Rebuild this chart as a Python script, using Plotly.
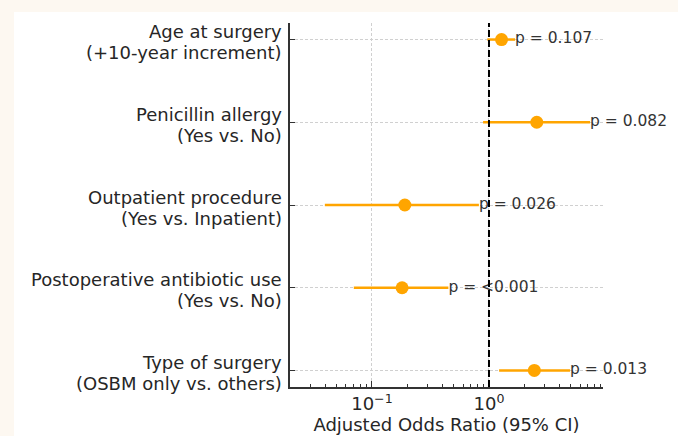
import plotly.graph_objects as go

labels = [
    "Age at surgery<br>(+10-year increment)",
    "Penicillin allergy<br>(Yes vs. No)",
    "Outpatient procedure<br>(Yes vs. Inpatient)",
    "Postoperative antibiotic use<br>(Yes vs. No)",
    "Type of surgery<br>(OSBM only vs. others)",
]
odds_ratio = [1.28, 2.56, 0.191, 0.181, 2.44]
ci_low = [0.967, 0.89, 0.0396, 0.070, 1.22]
ci_high = [1.67, 7.3, 0.82, 0.45, 4.92]
p_text = ["p = 0.107", "p = 0.082", "p = 0.026", "p = <0.001", "p = 0.013"]
x_ticks = [0.1, 1]
x_tick_text = ["10<sup>−1</sup>", "10<sup>0</sup>"]

ypos = list(range(len(labels)))
W, H = 678, 436
L, R, T, B = 290, 75, 23, 49
pw, ph = W - L - R, H - T - B

orange = "#FFA500"
font = "DejaVu Sans, Verdana, sans-serif"
txt = "#262626"

fig = go.Figure()

lx, ly = [], []
for i in ypos:
    lx += [ci_low[i], ci_high[i], None]
    ly += [i, i, None]
fig.add_trace(go.Scatter(x=lx, y=ly, mode="lines",
                         line=dict(color=orange, width=2.5),
                         hoverinfo="skip", showlegend=False, cliponaxis=False))
fig.add_trace(go.Scatter(x=odds_ratio, y=ypos, mode="markers",
                         marker=dict(color=orange, size=13),
                         showlegend=False, cliponaxis=False))
fig.add_trace(go.Scatter(x=ci_high, y=ypos, mode="text", text=p_text,
                         textposition="middle right",
                         textfont=dict(family=font, size=15.5, color="#333333"),
                         showlegend=False, cliponaxis=False))

minor_vals = [m * 10 ** e for e in (-2, -1, 0) for m in range(2, 10)]

# category labels, right-aligned against the left spine (two lines each)
annotations = []
for i, lab in zip(ypos, labels):
    for k, line in enumerate(lab.split("<br>")):
        annotations.append(dict(
            text=line, xref="paper", x=0, xanchor="right", xshift=-6,
            yref="y", y=i, yanchor="middle", yshift=(8 if k == 0 else -13),
            showarrow=False, font=dict(family=font, size=18, color=txt)))

fig.update_layout(
    width=W, height=H,
    margin=dict(l=L, r=R, t=T, b=B, autoexpand=False),
    paper_bgcolor="#FDF8F1",
    plot_bgcolor="white",
    font=dict(family=font, color=txt),
    annotations=annotations,
    shapes=[
        dict(type="rect", xref="paper", yref="paper",
             x0=(14 - L) / pw, x1=(W - L) / pw,
             y0=(T + ph - H) / ph, y1=(T + ph - 12) / ph,
             fillcolor="white", line=dict(width=0), layer="below"),
        dict(type="line", xref="x", yref="paper", x0=1, x1=1, y0=0, y1=1,
             line=dict(color="black", width=2, dash="7px,3px"), layer="above"),
    ],
    xaxis=dict(
        type="log", range=[-1.70, 0.974], automargin=False,
        tickvals=x_ticks, ticktext=x_tick_text,
        tickfont=dict(size=18, color=txt),
        ticks="inside", ticklen=6, tickwidth=1, tickcolor="#333333",
        showline=True, linecolor="#333333", linewidth=1.5,
        showgrid=True, gridcolor="#d0d0d0", griddash="3px,2px", gridwidth=0.8,
        zeroline=False,
        minor=dict(tickvals=minor_vals, ticks="inside", ticklen=3,
                   tickcolor="#333333", showgrid=False),
        title=dict(text="Adjusted Odds Ratio (95% CI)",
                   font=dict(size=18, color=txt), standoff=2),
    ),
    yaxis=dict(
        range=[4.2, -0.2], automargin=False,
        tickvals=ypos, showticklabels=False,
        ticks="inside", ticklen=5, tickwidth=1, tickcolor="#333333",
        showline=True, linecolor="#333333", linewidth=1.5,
        showgrid=True, gridcolor="#d0d0d0", griddash="3px,2px", gridwidth=0.8,
        zeroline=False,
    ),
)

fig.write_html("out.html",
               config={"displayModeBar": False},
               post_script="document.body.style.margin='0';document.body.style.overflow='hidden';")
